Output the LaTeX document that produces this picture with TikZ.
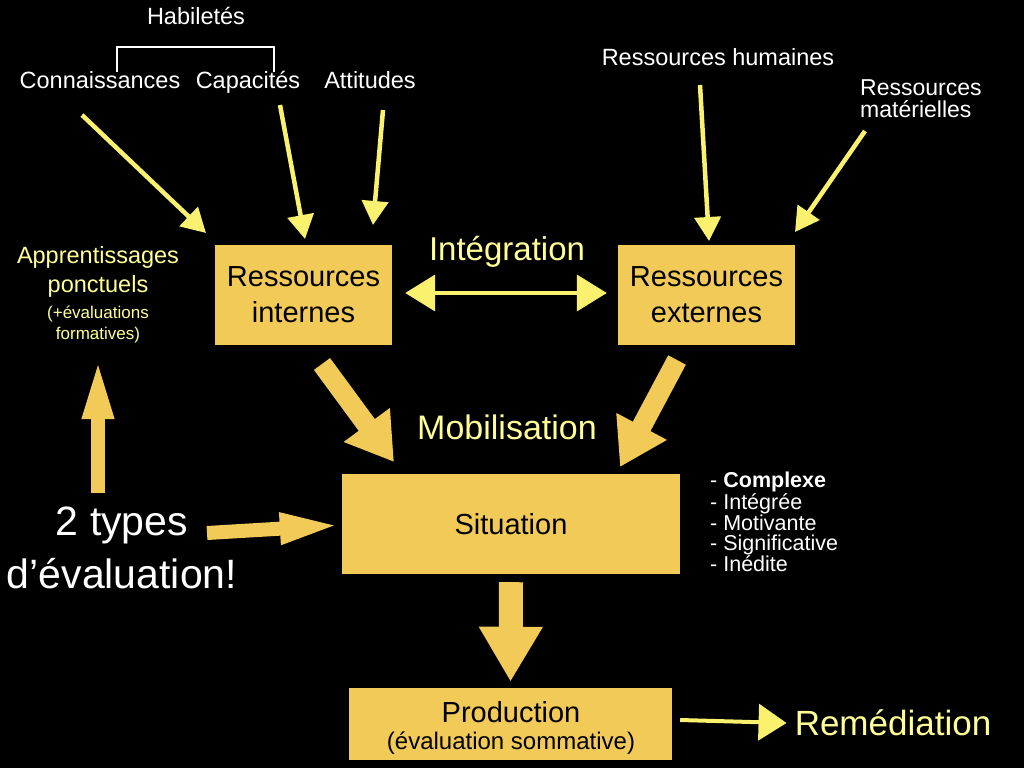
\documentclass[tikz,border=0pt]{standalone}
\usepackage{fontspec}
\setmainfont{Liberation Sans}
\usetikzlibrary{arrows.meta,positioning}
\definecolor{boxyellow}{RGB}{242,202,88}
\definecolor{paleyellow}{RGB}{255,255,150}
\definecolor{chalkyellow}{RGB}{250,242,110}
\newcommand{\fs}[2]{\fontsize{#1}{#2}\selectfont}
\tikzset{
  every node/.style={
    inner sep=0pt,
    text=white
  },
  topword/.style={
    font=\fs{23.5}{28},
    anchor=base
  },
  paleword/.style={
    text=paleyellow,
    align=center
  },
  box/.style n args={2}{
    shape=rectangle,
    fill=boxyellow,
    text=black,
    minimum width=#1,
    minimum height=#2,
    align=center,
    font=\fs{29}{36}
  },
  chalk/.style={
    draw=chalkyellow,
    line width=4.5pt,
    -{Triangle[length=24pt,width=26pt]}
  },
  fatarrow/.style n args={3}{
    draw=boxyellow,
    line width=#1,
    -{Triangle[length=#2,width=#3]}
  }
}

\begin{document}
\begin{tikzpicture}[x=1pt,y=-1pt]
  \fill[black] (0,0) rectangle (1024,768);

  % savoirs
  \node[topword] (hab) at (196,25) {Habiletés};
  \node[topword] (conn) at (100,88) {Connaissances};
  \node[topword] (cap) at (248,88) {Capacités};
  \node[topword] (att) at (370,88) {Attitudes};
  \draw[white, line width=2pt] (117,72) |- (274,47) -- (274,72);
  \node[topword] (hum) at (718,66) {Ressources humaines};
  \node[topword, anchor=base west, align=left, font=\fs{23}{21.5}] (mat) at (860,117) {Ressources\\matérielles};

  % boxes
  \node[box={177pt}{100pt}] (ri) at (303.5,295) {Ressources\\internes};
  \node[box={177pt}{100pt}] (re) at (706.5,295) {Ressources\\externes};
  \node[box={338pt}{100pt}] (sit) at (511,524) {Situation};
  \node[box={323pt}{72pt}] (prod) at (510.5,724) {};
  \node[text=black, font=\fs{29}{34}] (prodt) at (511,712) {Production};
  \node[text=black, font=\fs{24}{28}] (prods) at (511,743) {(évaluation sommative)};

  \node[paleword, font=\fs{23.5}{29}] (appr) at (98,272) {Apprentissages\\ponctuels};
  \node[paleword, font=\fs{17}{21}, below=8pt of appr] (form) {(+évaluations\\formatives)};
  \node[paleword, font=\fs{33}{38}] (integ) at (507,252) {Intégration};
  \node[paleword, font=\fs{34}{40}] (mob) at (507,427) {Mobilisation};
  \node[paleword, font=\fs{35}{40}] (remed) at (893,723) {Remédiation};
  \node[font=\fs{41}{53}, align=center] (types) at (122,548) {2 types\\d’évaluation!};
  \node[anchor=west, align=left, font=\fs{21.5}{20}] (crit) at (710,522)
    {- \textbf{Complexe}\\- Intégrée\\- Motivante\\- Significative\\- Inédite};

  % chalk arrows
  \coordinate (c1) at (82,115);   \coordinate (c1t) at (206,233);
  \coordinate (c2) at (280,105);  \coordinate (c2t) at (305,239);
  \coordinate (c3) at (383,110);  \coordinate (c3t) at (373,225);
  \coordinate (c4) at (700,85);   \coordinate (c4t) at (709,241);
  \coordinate (c5) at (865,131);  \coordinate (c5t) at (795,232);
  \draw[chalk] (c1) -- (c1t);
  \draw[chalk] (c2) -- (c2t);
  \draw[chalk] (c3) -- (c3t);
  \draw[chalk] (c4) -- (c4t);
  \draw[chalk] (c5) -- (c5t);
  \draw[chalk, line width=4pt, {Triangle[length=30pt,width=36pt]}-{Triangle[length=30pt,width=36pt]}]
    ([xshift=13pt]ri.east |- 0,293) -- ([xshift=-11pt]re.west |- 0,293);
  \draw[chalk, line width=4pt, -{Triangle[length=28pt,width=36pt]}]
    ([xshift=8pt]prod.east |- 0,720) -- ([xshift=-8pt]remed.west);

  % fat arrows
  \coordinate (m1) at (322,364);  \coordinate (m1t) at (394,462);
  \coordinate (m2) at (677,360);  \coordinate (m2t) at (620,467);
  \draw[fatarrow={20pt}{46pt}{54pt}] (m1) -- (m1t);
  \draw[fatarrow={20pt}{46pt}{54pt}] (m2) -- (m2t);
  \draw[fatarrow={14pt}{62pt}{28pt}] (98,493) -- (form.south |- 0,357);
  \draw[fatarrow={14pt}{62pt}{28pt}] (207,533) -- (sit.west |- 0,525);
  \draw[fatarrow={24pt}{55pt}{60pt}] ([yshift=-8pt]sit.south) -- ([yshift=6pt]prod.north);
\end{tikzpicture}
\end{document}
